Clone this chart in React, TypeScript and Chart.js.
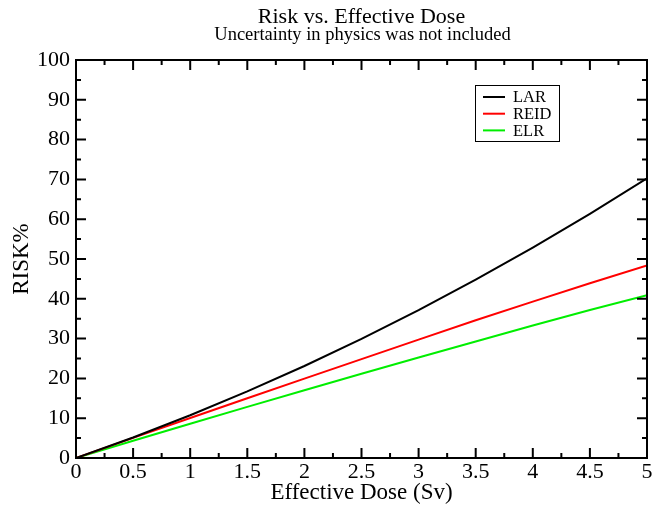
import { useEffect, useRef } from "react";
import { Chart, registerables } from "chart.js";

Chart.register(...registerables);

const FONT = '"Liberation Serif", "Times New Roman", serif';

// Effective dose (Sv) and the three risk estimates (%)
const doseSv = [0, 0.5, 1, 1.5, 2, 2.5, 3, 3.5, 4, 4.5, 5];
const larPct = [0, 5.16, 10.73, 16.72, 23.12, 29.94, 37.17, 44.82, 52.88, 61.36, 70.25];
const reidPct = [0, 5.05, 10.05, 15.0, 19.95, 24.85, 29.75, 34.6, 39.3, 43.9, 48.4];
const elrPct = [0, 4.33, 8.6, 12.84, 17.02, 21.16, 25.25, 29.29, 33.28, 37.2, 40.9];

const seriesNames = ["LAR", "REID", "ELR"];
const seriesColors = ["#000000", "#ff0000", "#00ee00"];

const titleText = "Risk vs. Effective Dose";
const subtitleText = "Uncertainty in physics was not included";

const toPoints = (ys: number[]) => doseSv.map((x, i) => ({ x, y: ys[i] }));

// Closed frame with inward major/minor ticks on all four sides
const frameTicks = {
  id: "frameTicks",
  afterDatasetsDraw(chart: any) {
    const { ctx, chartArea: a, scales } = chart;
    const xs = scales.x;
    const ys = scales.y;
    ctx.save();
    ctx.strokeStyle = "#000";
    ctx.lineWidth = 2;
    ctx.strokeRect(a.left, a.top, a.right - a.left, a.bottom - a.top);
    ctx.beginPath();
    for (let i = 0; i <= 20; i++) {
      const px = xs.getPixelForValue(i * 0.25);
      const len = i % 2 === 0 ? 10 : 5;
      ctx.moveTo(px, a.bottom);
      ctx.lineTo(px, a.bottom - len);
      ctx.moveTo(px, a.top);
      ctx.lineTo(px, a.top + len);
    }
    for (let i = 0; i <= 20; i++) {
      const py = ys.getPixelForValue(i * 5);
      const len = i % 2 === 0 ? 10 : 5;
      ctx.moveTo(a.left, py);
      ctx.lineTo(a.left + len, py);
      ctx.moveTo(a.right, py);
      ctx.lineTo(a.right - len, py);
    }
    ctx.stroke();
    ctx.restore();
  },
};

// Boxed legend inside the plot and the two-line heading
const boxLegendAndTitle = {
  id: "boxLegendAndTitle",
  afterDraw(chart: any) {
    const { ctx, chartArea: a } = chart;
    const cx = (a.left + a.right) / 2;
    ctx.save();
    ctx.fillStyle = "#000";
    ctx.textAlign = "center";
    ctx.textBaseline = "alphabetic";
    ctx.font = `22px ${FONT}`;
    ctx.fillText(titleText, cx, 23);
    ctx.font = `18.5px ${FONT}`;
    ctx.fillText(subtitleText, cx + 1, 40);

    const bx = 475;
    const by = 85;
    ctx.strokeStyle = "#000";
    ctx.lineWidth = 1;
    ctx.strokeRect(bx + 0.5, by + 0.5, 84, 56);
    ctx.font = `16.5px ${FONT}`;
    ctx.textAlign = "left";
    ctx.textBaseline = "middle";
    chart.data.datasets.forEach((ds: any, i: number) => {
      const ry = by + 12 + i * 16.7;
      ctx.strokeStyle = ds.borderColor;
      ctx.lineWidth = 2;
      ctx.beginPath();
      ctx.moveTo(bx + 8, ry);
      ctx.lineTo(bx + 30, ry);
      ctx.stroke();
      ctx.fillStyle = "#000";
      ctx.fillText(ds.label, bx + 38, ry + 1);
    });
    ctx.restore();
  },
};

export default function App() {
  const canvasRef = useRef<HTMLCanvasElement | null>(null);

  useEffect(() => {
    const canvas = canvasRef.current;
    if (!canvas) return;
    const tickFont = { family: FONT, size: 22 };
    const axisTitleFont = { family: FONT, size: 23 };
    const chart = new Chart(canvas, {
      type: "line",
      data: {
        datasets: [larPct, reidPct, elrPct].map((ys, i) => ({
          label: seriesNames[i],
          data: toPoints(ys),
          borderColor: seriesColors[i],
          backgroundColor: seriesColors[i],
          borderWidth: 2,
          pointRadius: 0,
          tension: 0,
          fill: false,
        })),
      },
      options: {
        animation: false,
        responsive: false,
        devicePixelRatio: 1,
        layout: { padding: { top: 60, right: 7, left: 0, bottom: 0 } },
        plugins: {
          legend: { display: false },
          tooltip: { enabled: false },
          title: { display: false },
        },
        scales: {
          x: {
            type: "linear",
            min: 0,
            max: 5,
            afterFit(s: any) {
              s.height = 54;
            },
            border: { display: false },
            grid: { display: false, drawTicks: false },
            ticks: {
              stepSize: 0.5,
              autoSkip: false,
              maxRotation: 0,
              padding: 1,
              color: "#000",
              font: tickFont,
              callback: (v: any) => String(v),
            },
            title: {
              display: true,
              text: "Effective Dose (Sv)",
              color: "#000",
              font: axisTitleFont,
              padding: { top: 0, bottom: 5 },
            },
          },
          y: {
            type: "linear",
            min: 0,
            max: 100,
            afterFit(s: any) {
              s.width = 76;
            },
            border: { display: false },
            grid: { display: false, drawTicks: false },
            ticks: {
              stepSize: 10,
              padding: 6,
              color: "#000",
              font: tickFont,
            },
            title: {
              display: true,
              text: "RISK%",
              color: "#000",
              font: axisTitleFont,
              padding: { top: 8, bottom: 0 },
            },
          },
        },
      },
      plugins: [frameTicks, boxLegendAndTitle],
    });
    return () => chart.destroy();
  }, []);

  return (
    <div style={{ position: "absolute", left: 0, top: 0, width: 654, height: 512, background: "#fff" }}>
      <canvas ref={canvasRef} width={654} height={512} style={{ display: "block" }} />
    </div>
  );
}
